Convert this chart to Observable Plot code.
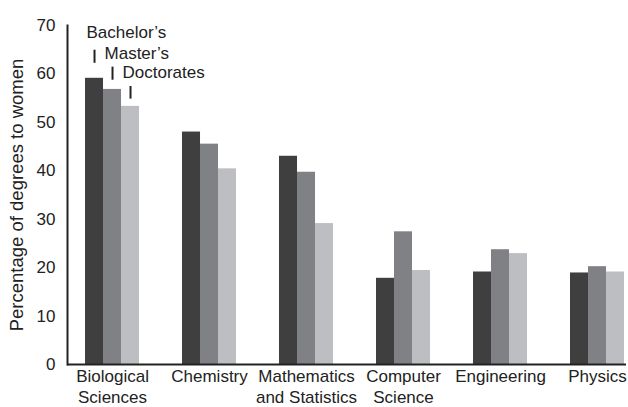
<!DOCTYPE html>
<html>
<head>
<meta charset="utf-8">
<script src="https://cdn.jsdelivr.net/npm/d3@7"></script>
<script src="https://cdn.jsdelivr.net/npm/@observablehq/plot@0.6"></script>
<style>
  body { margin: 0; background: #fff; }
</style>
</head>
<body>
<div id="chart"></div>
<script>
const categories = ["Biological Sciences", "Chemistry", "Mathematics and Statistics", "Computer Science", "Engineering", "Physics"];
const categoryLabels = ["Biological\nSciences", "Chemistry", "Mathematics\nand Statistics", "Computer\nScience", "Engineering", "Physics"];
const seriesNames = ["Bachelor’s", "Master’s", "Doctorates"];
const bachelors = [59.1, 48.0, 43.0, 17.8, 19.1, 18.9];
const masters = [56.8, 45.5, 39.7, 27.4, 23.7, 20.2];
const doctorates = [53.3, 40.4, 29.1, 19.4, 22.9, 19.1];
const yTicks = [0, 10, 20, 30, 40, 50, 60, 70];
const yLabel = "Percentage of degrees to women";
const seriesColors = ["#3f3f40", "#808184", "#bdbec2"];
// annotation (series label) placement, in data units
const annotationTextY = [68.6, 64.3, 60.2];
const annotationTickY1 = [62.2, 58.7, 54.8];
const annotationTickY2 = [64.9, 61.4, 57.4];

const seriesValues = [bachelors, masters, doctorates];
const table = seriesNames.flatMap((s, j) =>
  categories.map((c, i) => ({category: c, series: s, j, value: seriesValues[j][i]})));

const barW = 18;
const ink = "#222";
const font = 17;

const marks = [];
seriesNames.forEach((s, j) => {
  marks.push(Plot.barY(table.filter(d => d.j === j), {
    x: "category", y: "value", fill: seriesColors[j], dx: (j - 1) * barW
  }));
});
seriesNames.forEach((s, j) => {
  marks.push(Plot.ruleX([s], {
    x: () => categories[0], y1: () => annotationTickY1[j], y2: () => annotationTickY2[j],
    dx: (j - 1) * barW, stroke: ink, strokeWidth: 2
  }));
  marks.push(Plot.text([s], {
    x: () => categories[0], y: () => annotationTextY[j], text: d => d,
    textAnchor: "start", dx: (j - 1) * barW - 8, fontSize: font, fill: ink
  }));
});
marks.push(Plot.text(categories, {
  x: d => d, text: (d, i) => categoryLabels[i], frameAnchor: "bottom",
  lineAnchor: "top", dy: 2, lineHeight: 1.25, fontSize: font, fill: ink
}));
marks.push(Plot.axisY({ticks: yTicks, tickSize: 0, tickPadding: 12, fontSize: font, label: null, fill: ink}));
marks.push(Plot.text([yLabel], {
  frameAnchor: "left", textAnchor: "middle", dx: -50, rotate: -90, text: d => d, fontSize: 18.5, fill: ink
}));
marks.push(Plot.ruleY([0], {stroke: ink, strokeWidth: 2}));
marks.push(Plot.frame({anchor: "left", stroke: ink, strokeWidth: 2}));

const chart = Plot.plot({
  width: 628,
  height: 407,
  marginLeft: 67,
  marginRight: 2,
  marginTop: 25,
  marginBottom: 43,
  style: {fontFamily: "'Liberation Sans', Arial, sans-serif", fontSize: "17px", color: ink, background: "#fff"},
  x: {type: "band", domain: categories, paddingInner: 0.8144, paddingOuter: 0.2887, align: 0.643, round: false, axis: null},
  y: {domain: [0, 70], axis: null},
  marks
});
document.getElementById("chart").appendChild(chart);
</script>
</body>
</html>
